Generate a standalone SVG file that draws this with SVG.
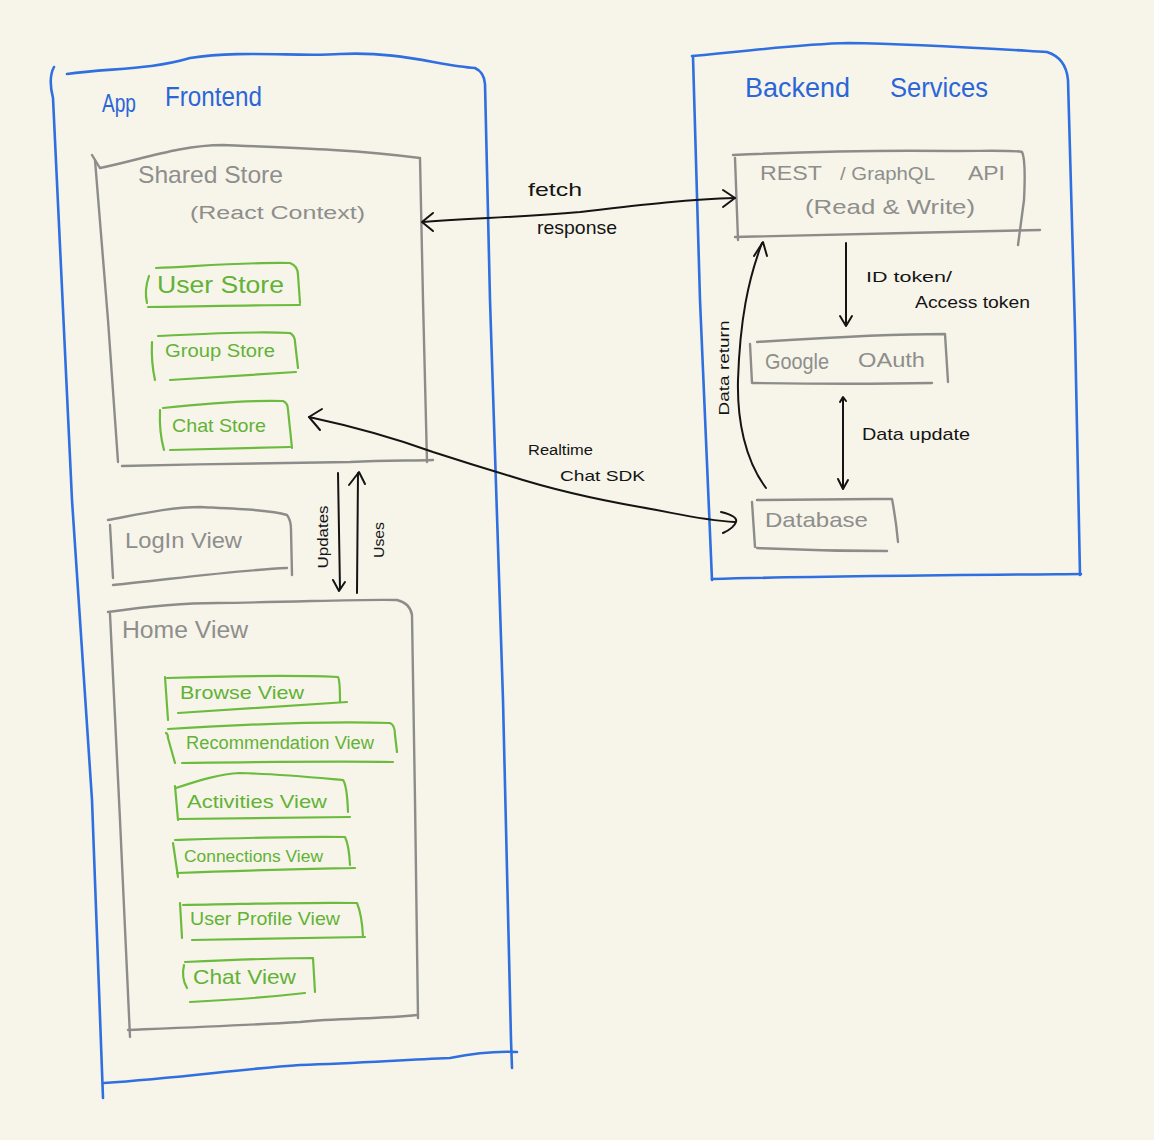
<svg xmlns="http://www.w3.org/2000/svg" width="1154" height="1140" viewBox="0 0 1154 1140">
<defs>
<style>
.bg{fill:#f7f5ea}
.blue{fill:none;stroke:#2f6fe0;stroke-width:2.6;stroke-linecap:round;stroke-linejoin:round}
.gray{fill:none;stroke:#8c8c8a;stroke-width:2.4;stroke-linecap:round;stroke-linejoin:round}
.green{fill:none;stroke:#6cbb3e;stroke-width:2.2;stroke-linecap:round;stroke-linejoin:round}
.ink{fill:none;stroke:#141414;stroke-width:2;stroke-linecap:round;stroke-linejoin:round}
text{font-family:"Liberation Sans","DejaVu Sans",sans-serif}
.tb{fill:#2b66d8}
.tg{fill:#8e8e8c}
.tgr{fill:#62b236}
.tk{fill:#141414}
</style>
</defs>
<rect class="bg" x="0" y="0" width="1154" height="1140"/>

<g id="app-frontend">
<path class="blue" d="M 54,67 Q 48,78 53,98 L 72,500 L 92,800 L 103,1098"/>
<path class="blue" d="M 67,74 C 110,68 150,70 190,58 C 240,50 300,57 340,54 C 400,51 440,66 475,68 Q 484,72 485,84 L 490,300 L 503,700 L 511,1040 L 512,1068"/>
<path class="blue" d="M 104,1083 C 180,1078 240,1069 300,1065 C 360,1063 400,1060 450,1058 C 480,1052 500,1051 517,1052"/>
<text class="tb" x="102" y="112" font-size="26" textLength="34" lengthAdjust="spacingAndGlyphs">App</text>
<text class="tb" x="165" y="106" font-size="27" textLength="97" lengthAdjust="spacingAndGlyphs">Frontend</text>
</g>

<g id="backend-services">
<path class="blue" d="M 693,57 L 700,300 L 712,580"/>
<path class="blue" d="M 692,56 C 760,50 800,44 848,43 C 920,44 980,48 1047,52 Q 1066,58 1068,80 L 1075,330 L 1080,575"/>
<path class="blue" d="M 712,579 C 820,576 960,575 1081,574"/>
<text class="tb" x="745" y="97" font-size="28" textLength="105" lengthAdjust="spacingAndGlyphs">Backend</text>
<text class="tb" x="890" y="97" font-size="28" textLength="98" lengthAdjust="spacingAndGlyphs">Services</text>
</g>

<g id="shared-store">
<path class="gray" d="M 92,155 Q 98,165 100,168 C 140,160 180,145 223,145 C 300,148 360,150 420,158 L 423,300 L 427,462"/>
<path class="gray" d="M 95,160 L 108,320 L 118,462"/>
<path class="gray" d="M 122,466 C 200,464 300,463 350,462 C 390,460 410,461 433,460"/>
<text class="tg" x="138" y="183" font-size="24" textLength="145" lengthAdjust="spacingAndGlyphs">Shared Store</text>
<text class="tg" x="190" y="219" font-size="18" textLength="175" lengthAdjust="spacingAndGlyphs">(React Context)</text>
</g>

<g id="user-store">
<path class="green" d="M 149,276 Q 144,290 147,303"/>
<path class="green" d="M 156,268 C 200,266 250,262 290,263 Q 298,266 298,275 L 300,303"/>
<path class="green" d="M 148,307 C 200,306 260,305 300,305"/>
<text class="tgr" x="157" y="293" font-size="24" textLength="127" lengthAdjust="spacingAndGlyphs">User Store</text>
</g>

<g id="group-store">
<path class="green" d="M 152,342 Q 151,362 155,380"/>
<path class="green" d="M 158,336 C 200,334 250,331 290,333 Q 295,336 295,342 L 298,368"/>
<path class="green" d="M 170,380 C 220,377 260,374 296,372"/>
<text class="tgr" x="165" y="357" font-size="18" textLength="110" lengthAdjust="spacingAndGlyphs">Group Store</text>
</g>

<g id="chat-store">
<path class="green" d="M 160,410 Q 159,432 164,450"/>
<path class="green" d="M 163,408 C 200,404 250,400 283,401 Q 288,403 288,410 L 292,448"/>
<path class="green" d="M 170,450 C 220,449 260,448 290,447"/>
<text class="tgr" x="172" y="432" font-size="19" textLength="94" lengthAdjust="spacingAndGlyphs">Chat Store</text>
</g>

<g id="login-view">
<path class="gray" d="M 108,520 C 140,514 170,507 200,507 C 240,509 270,510 287,515 Q 291,520 291,530 L 292,575"/>
<path class="gray" d="M 110,525 L 113,578"/>
<path class="gray" d="M 113,585 C 180,578 240,570 287,568"/>
<text class="tg" x="125" y="548" font-size="22" textLength="117" lengthAdjust="spacingAndGlyphs">LogIn View</text>
</g>

<g id="home-view">
<path class="gray" d="M 108,612 C 150,606 190,603 217,603 C 300,602 360,599 397,600 Q 410,603 412,615 L 415,800 L 418,1018"/>
<path class="gray" d="M 110,614 L 120,820 L 130,1037"/>
<path class="gray" d="M 128,1030 C 200,1027 250,1025 300,1022 C 340,1018 380,1019 417,1015"/>
<text class="tg" x="122" y="638" font-size="23" textLength="126" lengthAdjust="spacingAndGlyphs">Home View</text>
</g>

<g id="browse-view">
<path class="green" d="M 165,677 L 168,720"/>
<path class="green" d="M 167,678 C 230,676 290,675 338,677 Q 340,680 340,702"/>
<path class="green" d="M 178,713 C 240,709 300,705 347,702"/>
<text class="tgr" x="180" y="699" font-size="19" textLength="124" lengthAdjust="spacingAndGlyphs">Browse View</text>
</g>

<g id="recommendation-view">
<path class="green" d="M 166,733 Q 168,734 168,738 L 175,763"/>
<path class="green" d="M 168,729 C 250,724 330,721 390,723 Q 395,725 395,735 L 397,752"/>
<path class="green" d="M 182,763 C 260,762 330,761 393,762"/>
<text class="tgr" x="186" y="749" font-size="18" textLength="188" lengthAdjust="spacingAndGlyphs">Recommendation View</text>
</g>

<g id="activities-view">
<path class="green" d="M 175,786 L 178,820"/>
<path class="green" d="M 176,788 C 200,780 220,774 240,773 C 280,774 320,778 343,780 Q 347,785 348,812"/>
<path class="green" d="M 178,819 C 250,818 310,817 350,817"/>
<text class="tgr" x="187" y="808" font-size="19" textLength="140" lengthAdjust="spacingAndGlyphs">Activities View</text>
</g>

<g id="connections-view">
<path class="green" d="M 173,843 L 178,877"/>
<path class="green" d="M 175,840 C 240,838 300,836 345,837 Q 349,845 350,865"/>
<path class="green" d="M 177,873 C 250,870 310,869 355,868"/>
<text class="tgr" x="184" y="862" font-size="17" textLength="139" lengthAdjust="spacingAndGlyphs">Connections View</text>
</g>

<g id="user-profile-view">
<path class="green" d="M 180,903 L 182,938"/>
<path class="green" d="M 183,905 C 250,904 310,902 357,903 Q 362,915 363,937"/>
<path class="green" d="M 192,940 C 260,939 320,938 365,937"/>
<text class="tgr" x="190" y="925" font-size="19" textLength="150" lengthAdjust="spacingAndGlyphs">User Profile View</text>
</g>

<g id="chat-view">
<path class="green" d="M 184,965 Q 181,978 187,988"/>
<path class="green" d="M 185,962 C 230,960 280,958 313,958 L 315,992"/>
<path class="green" d="M 190,1002 C 230,1000 270,997 305,993"/>
<text class="tgr" x="193" y="984" font-size="21" textLength="103" lengthAdjust="spacingAndGlyphs">Chat View</text>
</g>

<g id="rest-api">
<path class="gray" d="M 733,155 C 800,152 880,150 950,151 C 990,151 1015,150 1022,152 Q 1026,160 1024,200 L 1018,245"/>
<path class="gray" d="M 735,158 L 738,240"/>
<path class="gray" d="M 735,237 C 830,235 940,232 1040,230"/>
<text class="tg" x="760" y="180" font-size="21" textLength="62" lengthAdjust="spacingAndGlyphs">REST</text>
<text class="tg" x="840" y="180" font-size="19" textLength="95" lengthAdjust="spacingAndGlyphs">/ GraphQL</text>
<text class="tg" x="968" y="180" font-size="20" textLength="37" lengthAdjust="spacingAndGlyphs">API</text>
<text class="tg" x="805" y="214" font-size="21" textLength="170" lengthAdjust="spacingAndGlyphs">(Read &amp; Write)</text>
</g>

<g id="google-oauth">
<path class="gray" d="M 750,344 L 752,383"/>
<path class="gray" d="M 757,342 C 820,338 880,334 945,334 L 948,382"/>
<path class="gray" d="M 753,383 C 820,384 880,384 932,383"/>
<text class="tg" x="765" y="369" font-size="22" textLength="64" lengthAdjust="spacingAndGlyphs">Google</text>
<text class="tg" x="858" y="367" font-size="20" textLength="67" lengthAdjust="spacingAndGlyphs">OAuth</text>
</g>

<g id="database">
<path class="gray" d="M 752,502 L 755,547"/>
<path class="gray" d="M 757,500 C 810,500 850,499 892,499 Q 896,520 898,542"/>
<path class="gray" d="M 757,548 C 800,550 850,551 887,551"/>
<text class="tg" x="765" y="527" font-size="21" textLength="103" lengthAdjust="spacingAndGlyphs">Database</text>
</g>

<g id="connectors">
<path class="ink" d="M 423,222 C 480,218 520,217 580,212 C 640,205 690,199 735,198"/>
<path class="ink" d="M 433,213 L 422,222 L 433,231"/>
<path class="ink" d="M 723,190 L 735,198 L 723,207"/>
<text class="tk" x="528" y="196" font-size="19" textLength="54" lengthAdjust="spacingAndGlyphs">fetch</text>
<text class="tk" x="537" y="234" font-size="19" textLength="80" lengthAdjust="spacingAndGlyphs">response</text>

<path class="ink" d="M 309,417 C 360,428 400,440 433,452 C 470,464 490,470 510,476 C 560,492 600,500 640,507 C 680,514 700,520 735,522"/>
<path class="ink" d="M 322,409 L 309,417 L 320,430"/>
<path class="ink" d="M 721,512 Q 738,516 736,522 Q 734,528 723,533"/>
<text class="tk" x="528" y="455" font-size="14" textLength="65" lengthAdjust="spacingAndGlyphs">Realtime</text>
<text class="tk" x="560" y="481" font-size="15" textLength="85" lengthAdjust="spacingAndGlyphs">Chat SDK</text>

<path class="ink" d="M 338,473 L 340,589"/>
<path class="ink" d="M 333,580 L 339,591 L 345,582"/>
<path class="ink" d="M 357,593 L 358,473"/>
<path class="ink" d="M 349,485 L 359,472 L 365,484"/>
<text class="tk" transform="translate(328,537) rotate(-90)" text-anchor="middle" font-size="14" textLength="63" lengthAdjust="spacingAndGlyphs">Updates</text>
<text class="tk" transform="translate(384,540) rotate(-90)" text-anchor="middle" font-size="15" textLength="36" lengthAdjust="spacingAndGlyphs">Uses</text>

<path class="ink" d="M 846,243 L 846,325"/>
<path class="ink" d="M 840,316 L 846,326 L 852,316"/>
<text class="tk" x="866" y="282" font-size="15" textLength="86" lengthAdjust="spacingAndGlyphs">ID token/</text>
<text class="tk" x="915" y="308" font-size="16" textLength="115" lengthAdjust="spacingAndGlyphs">Access token</text>

<path class="ink" d="M 843,399 L 843,487"/>
<path class="ink" d="M 840,402 L 843,397 L 846,401"/>
<path class="ink" d="M 838,479 L 843,489 L 848,480"/>
<text class="tk" x="862" y="440" font-size="17" textLength="108" lengthAdjust="spacingAndGlyphs">Data update</text>

<path class="ink" d="M 766,488 C 745,460 737,420 738,380 C 740,320 748,280 762,243"/>
<path class="ink" d="M 754,256 L 763,242 L 767,256"/>
<text class="tk" transform="translate(729,368) rotate(-90)" text-anchor="middle" font-size="14" textLength="95" lengthAdjust="spacingAndGlyphs">Data return</text>
</g>
</svg>
